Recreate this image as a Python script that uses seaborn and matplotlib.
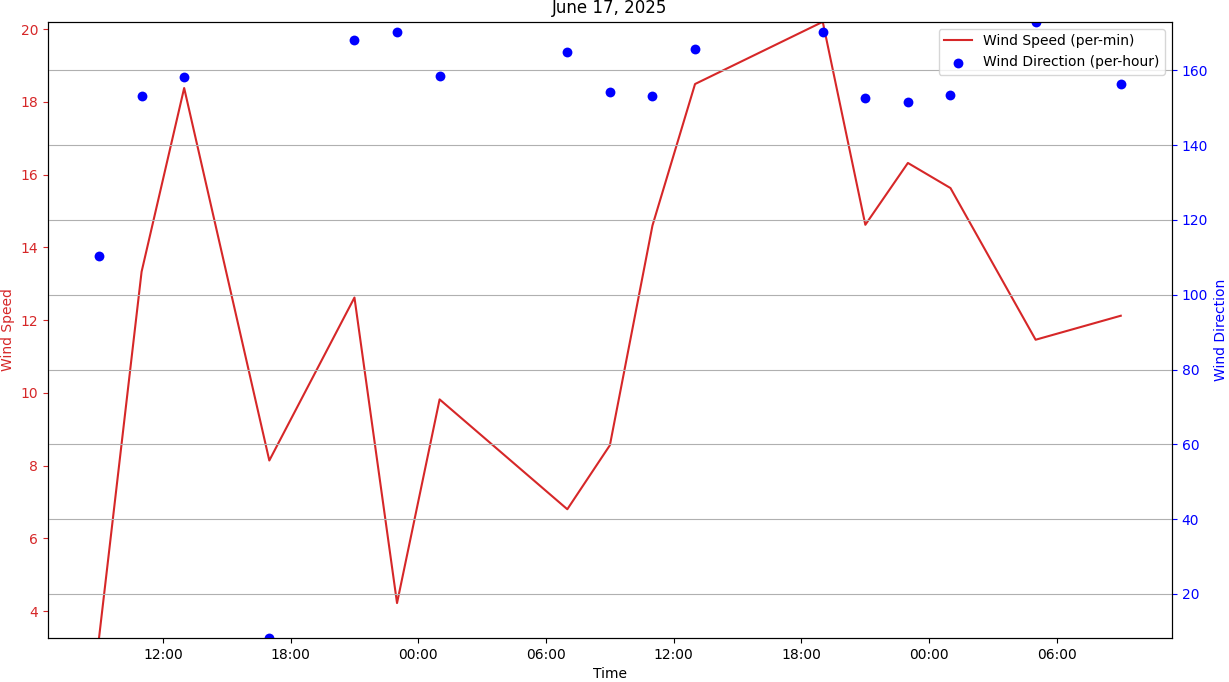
import pandas as pd
import numpy as np
import matplotlib
matplotlib.use("Agg")
import matplotlib.pyplot as plt
import matplotlib.dates as mdates
import seaborn as sns

# ====================== DATA ======================
times = [
    "2025-06-16 09:00", "2025-06-16 11:00", "2025-06-16 13:00", "2025-06-16 17:00",
    "2025-06-16 21:00", "2025-06-16 23:00", "2025-06-17 01:00", "2025-06-17 07:00",
    "2025-06-17 09:00", "2025-06-17 11:00", "2025-06-17 13:00", "2025-06-17 19:00",
    "2025-06-17 21:00", "2025-06-17 23:00", "2025-06-18 01:00", "2025-06-18 05:00",
    "2025-06-18 09:00",
]
wind_speed = [3.26, 13.33, 18.38, 8.14, 12.62, 4.22, 9.82, 6.80,
              8.56, 14.60, 18.49, 20.20, 14.62, 16.32, 15.63, 11.46, 12.12]
wind_dir = [110.4, 153.2, 158.2, 8.2, 168.1, 170.3, 158.5, 164.9,
            154.2, 153.2, 165.7, 170.3, 152.6, 151.5, 153.4, 173.0, 156.4]

df = pd.DataFrame({
    "time": pd.to_datetime(times),
    "speed": wind_speed,
    "direction": wind_dir,
})

fig, ax1 = plt.subplots(figsize=(12.29, 6.82), dpi=100)
fig.subplots_adjust(left=0.039, right=0.9535, top=0.968, bottom=0.0645)

# Wind speed (left axis)
sns.lineplot(data=df, x="time", y="speed", ax=ax1, color="tab:red",
             label="Wind Speed (per-min)", legend=False)
ax1.set_ylim(min(wind_speed), max(wind_speed))
ax1.set_ylabel("Wind Speed", color="tab:red")
ax1.set_xlabel("Time")
ax1.tick_params(axis="y", colors="tab:red")

# Wind direction (right axis)
ax2 = ax1.twinx()
sns.scatterplot(data=df, x="time", y="direction", ax=ax2, color="blue",
                s=50, linewidth=0, label="Wind Direction (per-hour)", legend=False)
ax2.set_ylim(min(wind_dir), max(wind_dir))
ax2.set_ylabel("Wind Direction", color="blue")
ax2.tick_params(axis="y", colors="blue")
ax2.grid(True, axis="y")

ax1.xaxis.set_major_locator(mdates.HourLocator(byhour=[0, 6, 12, 18]))
ax1.xaxis.set_major_formatter(mdates.DateFormatter("%H:%M"))

h1, l1 = ax1.get_legend_handles_labels()
h2, l2 = ax2.get_legend_handles_labels()
ax2.legend(h1 + h2, l1 + l2, loc="upper right")

ax1.set_title("June 17, 2025")
plt.savefig("out.png", dpi=100)
plt.close()
